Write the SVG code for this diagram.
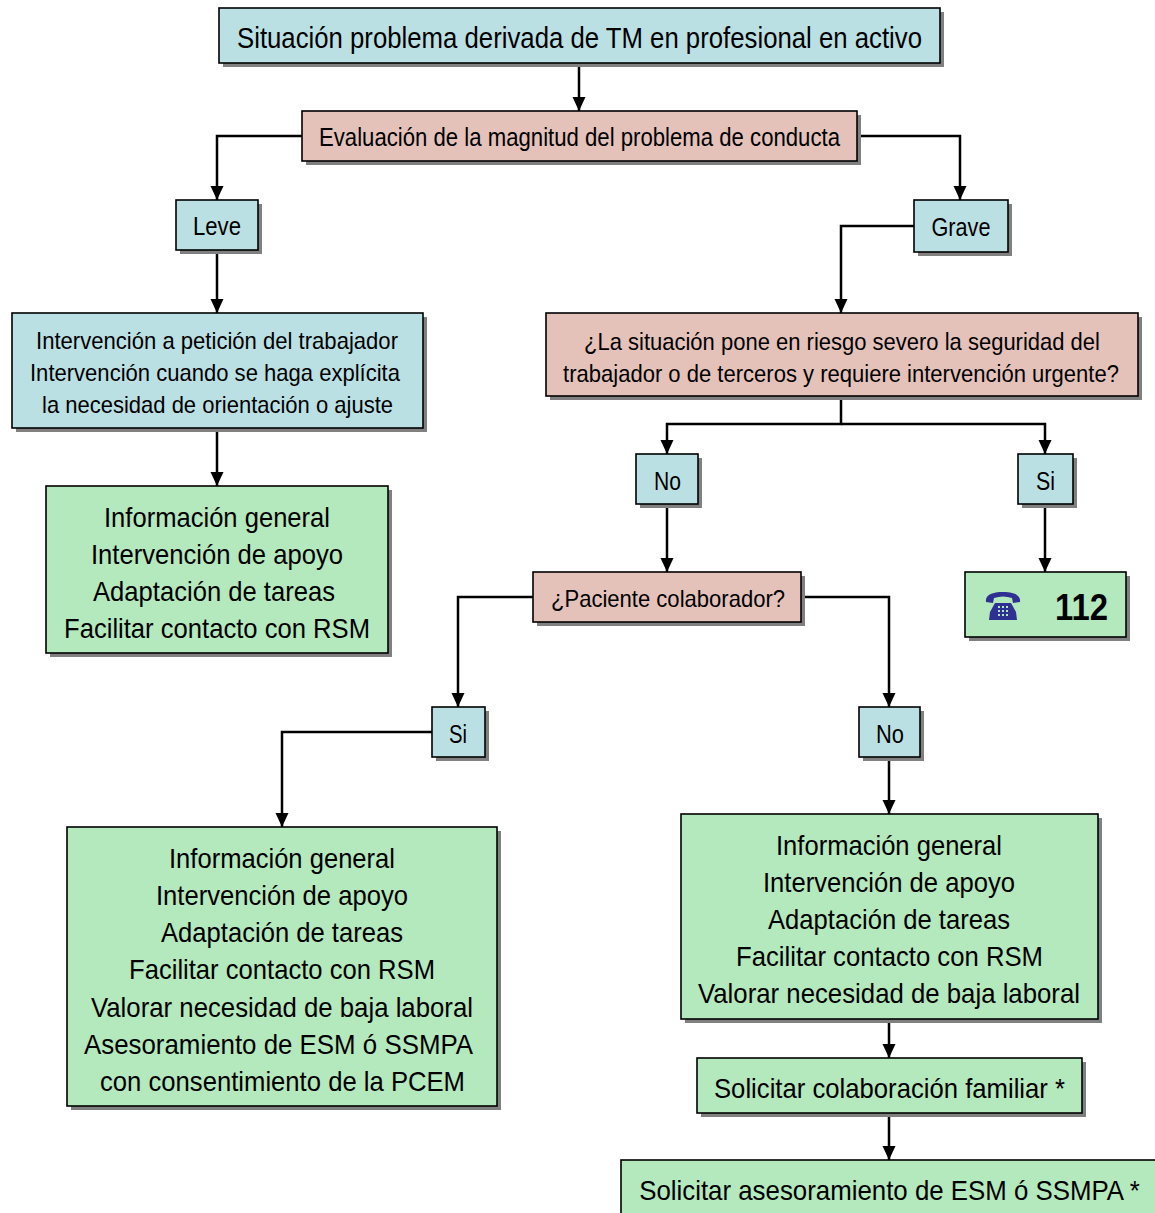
<svg xmlns="http://www.w3.org/2000/svg" width="1155" height="1213" viewBox="0 0 1155 1213">
<defs>
<style>
.sh{fill:#808080}
.b{stroke:#000;stroke-width:1.6}
.blue{fill:#bae0e4}
.pink{fill:#e4c2ba}
.green{fill:#b4e8bd}
text{font-family:"Liberation Sans",Arial,sans-serif;fill:#000;text-anchor:middle}
.t24{font-size:24px}
.t25{font-size:25px}
.t28{font-size:28px}
.t29{font-size:29px}
.conn path{fill:none;stroke:#000;stroke-width:2.5;marker-end:url(#arr)}
</style>
<marker id="arr" markerUnits="userSpaceOnUse" markerWidth="14" markerHeight="14" viewBox="0 0 14 14" refX="14" refY="7" orient="auto">
<path d="M0,0.5 L14,7 L0,13.5 Z" fill="#000"/>
</marker>
</defs>
<rect width="1155" height="1213" fill="#fff"/>

<g class="conn">
<path d="M579,63 V111"/>
<path d="M302,136 H217 V200"/>
<path d="M857,136 H960 V200"/>
<path d="M217,250 V313"/>
<path d="M914,226 H841 V313"/>
<path d="M217,428 V486"/>
<path d="M841,396 V424 H667 V454"/>
<path d="M841,424 H1045 V454"/>
<path d="M667,504 V572"/>
<path d="M1045,504 V572"/>
<path d="M533,597 H458 V707"/>
<path d="M801,597 H889 V707"/>
<path d="M432,732 H282 V827"/>
<path d="M889,757 V814"/>
<path d="M889,1019 V1058"/>
<path d="M889,1113 V1160"/>
</g>

<g id="n-top">
<rect class="sh" x="223" y="12" width="721" height="55"/>
<rect class="b blue" x="219" y="8" width="721" height="55"/>
<text class="t29" x="579.5" y="48" textLength="685" lengthAdjust="spacingAndGlyphs">Situación problema derivada de TM en profesional en activo</text>
</g>

<g id="n-eval">
<rect class="sh" x="306" y="115" width="555" height="50"/>
<rect class="b pink" x="302" y="111" width="555" height="50"/>
<text class="t25" x="579.5" y="146" textLength="521" lengthAdjust="spacingAndGlyphs">Evaluación de la magnitud del problema de conducta</text>
</g>

<g id="n-leve">
<rect class="sh" x="180" y="204" width="82" height="50"/>
<rect class="b blue" x="176" y="200" width="82" height="50"/>
<text class="t25" x="217" y="235" textLength="48" lengthAdjust="spacingAndGlyphs">Leve</text>
</g>

<g id="n-grave">
<rect class="sh" x="918" y="204" width="94" height="52"/>
<rect class="b blue" x="914" y="200" width="94" height="52"/>
<text class="t25" x="961" y="236" textLength="59" lengthAdjust="spacingAndGlyphs">Grave</text>
</g>

<g id="n-interv">
<rect class="sh" x="16" y="317" width="411" height="115"/>
<rect class="b blue" x="12" y="313" width="411" height="115"/>
<text class="t24" x="217" y="349" textLength="362" lengthAdjust="spacingAndGlyphs">Intervención a petición del trabajador</text>
<text class="t24" x="215" y="381" textLength="370" lengthAdjust="spacingAndGlyphs">Intervención cuando se haga explícita</text>
<text class="t24" x="217.5" y="413" textLength="351" lengthAdjust="spacingAndGlyphs">la necesidad de orientación o ajuste</text>
</g>

<g id="n-green1">
<rect class="sh" x="50" y="490" width="342" height="167"/>
<rect class="b green" x="46" y="486" width="342" height="167"/>
<text class="t28" x="217" y="527" textLength="226" lengthAdjust="spacingAndGlyphs">Información general</text>
<text class="t28" x="217" y="564" textLength="252" lengthAdjust="spacingAndGlyphs">Intervención de apoyo</text>
<text class="t28" x="214" y="601" textLength="242" lengthAdjust="spacingAndGlyphs">Adaptación de tareas</text>
<text class="t28" x="217" y="638" textLength="306" lengthAdjust="spacingAndGlyphs">Facilitar contacto con RSM</text>
</g>

<g id="n-question">
<rect class="sh" x="550" y="317" width="592" height="83"/>
<rect class="b pink" x="546" y="313" width="592" height="83"/>
<text class="t24" transform="translate(842,350) scale(0.85,1)" x="0" y="0" textLength="607" lengthAdjust="spacingAndGlyphs">¿La situación pone en riesgo severo la seguridad del</text>
<text class="t24" transform="translate(841,382) scale(0.85,1)" x="0" y="0" textLength="654" lengthAdjust="spacingAndGlyphs">trabajador o de terceros y requiere intervención urgente?</text>
</g>

<g id="n-no1">
<rect class="sh" x="640" y="458" width="62" height="50"/>
<rect class="b blue" x="636" y="454" width="62" height="50"/>
<text class="t25" x="667.5" y="490" textLength="27" lengthAdjust="spacingAndGlyphs">No</text>
</g>

<g id="n-si1">
<rect class="sh" x="1022" y="458" width="55" height="50"/>
<rect class="b blue" x="1018" y="454" width="55" height="50"/>
<text class="t25" x="1045.5" y="490" textLength="19" lengthAdjust="spacingAndGlyphs">Si</text>
</g>

<g id="n-paciente">
<rect class="sh" x="537" y="576" width="268" height="50"/>
<rect class="b pink" x="533" y="572" width="268" height="50"/>
<text class="t24" x="668" y="607" textLength="234" lengthAdjust="spacingAndGlyphs">¿Paciente colaborador?</text>
</g>

<g id="n-112">
<rect class="sh" x="969" y="576" width="161" height="65"/>
<rect class="b green" x="965" y="572" width="161" height="65"/>
<g fill="#2e3192">
<path d="M986,602 C985,595 992,592 1003,592 C1014,592 1021,595 1020,602 L1013,603 L1012,598 C1006,596 1000,596 994,598 L993,603 Z"/>
<path d="M995,603 L1011,603 L1016,612 L1017,620 L989,620 L990,612 Z"/>
</g>
<g fill="#b4e8bd">
<rect x="998" y="606" width="2" height="2"/><rect x="1002" y="606" width="2" height="2"/><rect x="1006" y="606" width="2" height="2"/>
<rect x="998" y="610" width="2" height="2"/><rect x="1002" y="610" width="2" height="2"/><rect x="1006" y="610" width="2" height="2"/>
<rect x="998" y="614" width="2" height="2"/><rect x="1002" y="614" width="2" height="2"/><rect x="1006" y="614" width="2" height="2"/>
</g>
<text x="1081.5" y="620" font-size="36" font-weight="bold" textLength="53" lengthAdjust="spacingAndGlyphs">112</text>
</g>

<g id="n-si2">
<rect class="sh" x="436" y="711" width="53" height="50"/>
<rect class="b blue" x="432" y="707" width="53" height="50"/>
<text class="t25" x="458" y="743" textLength="18" lengthAdjust="spacingAndGlyphs">Si</text>
</g>

<g id="n-no2">
<rect class="sh" x="863" y="711" width="61" height="50"/>
<rect class="b blue" x="859" y="707" width="61" height="50"/>
<text class="t25" x="890" y="743" textLength="28" lengthAdjust="spacingAndGlyphs">No</text>
</g>

<g id="n-greenL">
<rect class="sh" x="71" y="831" width="430" height="279"/>
<rect class="b green" x="67" y="827" width="430" height="279"/>
<text class="t28" x="282" y="868" textLength="226" lengthAdjust="spacingAndGlyphs">Información general</text>
<text class="t28" x="282" y="905" textLength="252" lengthAdjust="spacingAndGlyphs">Intervención de apoyo</text>
<text class="t28" x="282" y="942" textLength="242" lengthAdjust="spacingAndGlyphs">Adaptación de tareas</text>
<text class="t28" x="282" y="979" textLength="306" lengthAdjust="spacingAndGlyphs">Facilitar contacto con RSM</text>
<text class="t28" x="282" y="1017" textLength="382" lengthAdjust="spacingAndGlyphs">Valorar necesidad de baja laboral</text>
<text class="t28" x="278.5" y="1054" textLength="389" lengthAdjust="spacingAndGlyphs">Asesoramiento de ESM ó SSMPA</text>
<text class="t28" x="282.5" y="1091" textLength="365" lengthAdjust="spacingAndGlyphs">con consentimiento de la PCEM</text>
</g>

<g id="n-greenR">
<rect class="sh" x="685" y="818" width="417" height="205"/>
<rect class="b green" x="681" y="814" width="417" height="205"/>
<text class="t28" x="889" y="855" textLength="226" lengthAdjust="spacingAndGlyphs">Información general</text>
<text class="t28" x="889" y="892" textLength="252" lengthAdjust="spacingAndGlyphs">Intervención de apoyo</text>
<text class="t28" x="889" y="929" textLength="242" lengthAdjust="spacingAndGlyphs">Adaptación de tareas</text>
<text class="t28" x="889.5" y="966" textLength="307" lengthAdjust="spacingAndGlyphs">Facilitar contacto con RSM</text>
<text class="t28" x="889" y="1003" textLength="382" lengthAdjust="spacingAndGlyphs">Valorar necesidad de baja laboral</text>
</g>

<g id="n-solcol">
<rect class="sh" x="701" y="1062" width="385" height="55"/>
<rect class="b green" x="697" y="1058" width="385" height="55"/>
<text class="t28" x="889.5" y="1098" textLength="351" lengthAdjust="spacingAndGlyphs">Solicitar colaboración familiar *</text>
</g>

<g id="n-solase">
<rect class="b green" x="621" y="1160" width="545" height="60"/>
<text class="t28" transform="translate(889.5,1200) scale(0.85,1)" x="0" y="0" textLength="589" lengthAdjust="spacingAndGlyphs">Solicitar asesoramiento de ESM ó SSMPA *</text>
</g>
</svg>
